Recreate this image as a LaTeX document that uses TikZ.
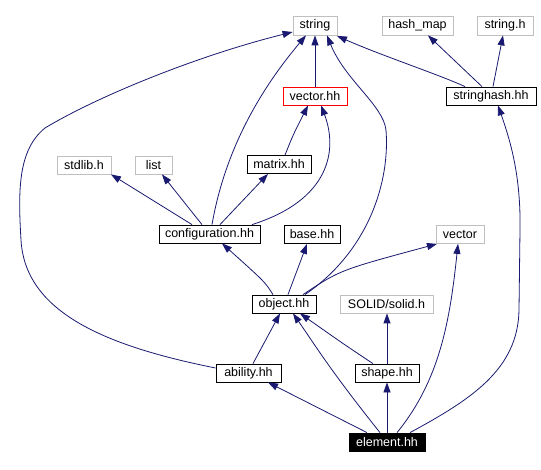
\documentclass[tikz,border=0pt]{standalone}
\usepackage{fontspec}
\setmainfont{Liberation Sans}
\usetikzlibrary{arrows.meta}
\definecolor{edgeblue}{HTML}{191970}
\definecolor{lightgrey}{HTML}{BFBFBF}
\tikzset{
  box/.style={draw=black, line width=0.8pt, minimum height=18pt, inner sep=0pt, font=\fontsize{12.5}{14}\selectfont},
  extbox/.style={box, draw=lightgrey},
  redbox/.style={box, draw=red},
  rootbox/.style={box, fill=black, text=white, draw=black},
  dep/.style={draw=edgeblue, line width=0.8pt, -{Triangle[length=10pt,width=7pt]}, color=edgeblue},
}
\begin{document}
\begin{tikzpicture}[x=1pt,y=-1pt]
\useasboundingbox[fill=white] (0,0) rectangle (541,470);
% nodes
\node[extbox, minimum width=44pt, minimum height=19pt] (string) at (315,25.5) {string};
\node[extbox, minimum width=71pt, minimum height=19pt] (hashmap) at (417.5,25.5) {hash\_map};
\node[extbox, minimum width=56pt, minimum height=19pt] (stringh) at (505,25.5) {string.h};
\node[redbox, minimum width=64pt] (vectorhh) at (315,96) {vector.hh};
\node[box, minimum width=90pt] (stringhash) at (491,96) {stringhash.hh};
\node[extbox, minimum width=54pt] (stdlib) at (84,165) {stdlib.h};
\node[extbox, minimum width=37pt] (list) at (153.5,165) {list};
\node[box, minimum width=64pt] (matrix) at (279,164.5) {matrix.hh};
\node[box, minimum width=101pt] (config) at (209.5,234) {configuration.hh};
\node[box, minimum width=56pt] (base) at (312,234.5) {base.hh};
\node[extbox, minimum width=48pt] (vector) at (460,234.5) {vector};
\node[box, minimum width=64pt] (object) at (284,304) {object.hh};
\node[extbox, minimum width=93pt] (solid) at (386.5,304) {SOLID/solid.h};
\node[box, minimum width=65pt] (ability) at (248.5,373) {ability.hh};
\node[box, minimum width=64pt] (shape) at (387,373) {shape.hh};
\node[rootbox, minimum width=76pt] (element) at (387,442) {element.hh};
% edges
\draw[dep] (vectorhh.north) -- (string.south);
\draw[dep] ([xshift=-26pt]stringhash.north) .. controls (440,75) and (380,55) .. ([xshift=22pt,yshift=-0.5pt]string.south);
\draw[dep] ([xshift=-9pt]stringhash.north) -- ([xshift=10.5pt]hashmap.south);
\draw[dep] ([xshift=2pt]stringhash.north) -- ([xshift=-2pt]stringh.south);
\draw[dep] ([xshift=6pt]matrix.north) .. controls (293,135) .. ([xshift=-7pt]vectorhh.south);
\draw[dep] ([xshift=42.5pt]config.north) .. controls (330,200) and (338,150) .. ([xshift=6pt]vectorhh.south);
\draw[dep] ([xshift=2.5pt]config.north) .. controls (225,150) and (260,90) .. ([xshift=-9pt]string.south);
\draw[dep] ([xshift=-17.5pt]config.north) -- ([xshift=27pt]stdlib.south);
\draw[dep] ([xshift=-7.5pt]config.north) -- ([xshift=8.5pt]list.south);
\draw[dep] ([xshift=10.5pt]config.north) -- ([xshift=-11pt]matrix.south);
\draw[dep] ([xshift=-11pt]object.north) .. controls (265,282) .. ([xshift=12.5pt]config.south);
\draw[dep] ([xshift=4pt]object.north) -- ([xshift=-5pt]base.south);
\draw[dep] ([xshift=19pt]object.north) .. controls (340,270) .. ([xshift=-23pt]vector.south);
\draw[dep] ([xshift=21pt]object.north) .. controls (370,250) and (390,180) .. (386,130)
   .. controls (383,105) and (345,80) .. ([xshift=12pt]string.south);
\draw[dep] ([xshift=4.5pt]ability.north) -- ([xshift=-4pt]object.south);
\draw[dep] ([yshift=5pt]ability.west) .. controls (100,345) and (25,310) .. (21,240)
   .. controls (18,190) and (18,150) .. (45,128)
   .. controls (100,95) and (200,55) .. ([yshift=-6.5pt]string.west);
\draw[dep] ([xshift=-14pt]shape.north) .. controls (345,345) .. ([xshift=16pt]object.south);
\draw[dep] (shape.north) -- ([xshift=0.5pt]solid.south);
\draw[dep] (element.north) -- (shape.south);
\draw[dep] ([xshift=-20pt]element.north) -- ([xshift=19.5pt]ability.south);
\draw[dep] ([xshift=-7pt]element.north) .. controls (330,370) and (315,345) .. ([xshift=9pt]object.south);
\draw[dep] ([xshift=10pt]element.north) .. controls (440,380) and (450,320) .. ([xshift=-2pt]vector.south);
\draw[dep] ([xshift=23pt]element.north) .. controls (470,400) and (518,370) .. (519,310)
   -- (520,230) .. controls (521,175) and (510,140) .. ([xshift=7pt]stringhash.south);
\end{tikzpicture}
\end{document}
